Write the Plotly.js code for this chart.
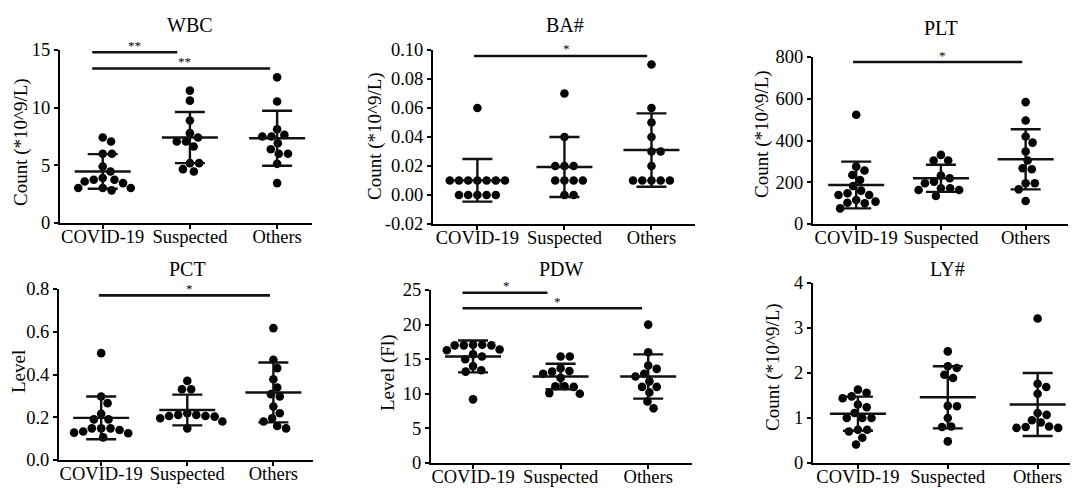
<!DOCTYPE html>
<html><head><meta charset="utf-8">
<script src="https://cdn.plot.ly/plotly-3.0.1.min.js"></script>
<style>
@font-face{font-family:'LSL';src:local('Liberation Serif'),local('LiberationSerif'),local('Liberation Serif Regular');}
html,body{margin:0;padding:0;background:#fff}#chart{width:1072px;height:488px}
</style>
</head><body><div id="chart"></div>
<script>
// ---------- DATA ----------
const categories = ['COVID-19', 'Suspected', 'Others'];

// WBC (*10^9/L)
const wbcCovid = [7.41, 7.07, 6.0, 6.0, 4.9, 4.47, 3.9, 3.75, 3.75, 3.6, 3.46, 3.03, 3.03, 3.03, 2.83];
const wbcSuspected = [11.48, 10.61, 8.88, 7.79, 7.41, 7.07, 7.07, 6.63, 5.19, 5.19, 4.67, 4.47];
const wbcOthers = [12.63, 10.53, 8.13, 7.64, 7.5, 7.5, 6.92, 6.4, 6.0, 6.0, 5.13, 3.46];
const wbcMean = [4.47, 7.41, 7.35];
const wbcSD = [1.5, 2.22, 2.38];

// BA# (*10^9/L)
const baCovid = [0.06, 0.01, 0.01, 0.01, 0.01, 0.01, 0.01, 0.01, 0, 0, 0, 0, 0];
const baSuspected = [0.07, 0.04, 0.02, 0.02, 0.02, 0.01, 0.01, 0.01, 0.01, 0, 0];
const baOthers = [0.09, 0.06, 0.05, 0.04, 0.03, 0.03, 0.02, 0.01, 0.01, 0.01, 0.01, 0.01];
const baMean = [0.0101, 0.0193, 0.031];
const baSD = [0.0147, 0.0207, 0.0253];

// PLT (*10^9/L)
const pltCovid = [523, 275, 256, 235, 211, 182, 160, 147, 139, 139, 115, 107, 102, 99, 75];
const pltSuspected = [331, 304, 304, 232, 219, 203, 195, 171, 171, 163, 163, 134];
const pltOthers = [584, 496, 419, 390, 347, 304, 267, 262, 195, 195, 166, 110];
const pltMean = [187, 219, 310];
const pltSD = [112, 65, 144];

// PCT (level)
const pctCovid = [0.50, 0.297, 0.266, 0.216, 0.19, 0.19, 0.148, 0.148, 0.148, 0.14, 0.133, 0.128, 0.125, 0.106];
const pctSuspected = [0.37, 0.331, 0.331, 0.219, 0.211, 0.211, 0.206, 0.206, 0.203, 0.195, 0.18, 0.148];
const pctOthers = [0.617, 0.469, 0.43, 0.378, 0.339, 0.308, 0.297, 0.25, 0.219, 0.195, 0.18, 0.159, 0.148];
const pctMean = [0.197, 0.234, 0.316];
const pctSD = [0.10, 0.072, 0.14];

// PDW (Fl)
const pdwCovid = [17.1, 17.1, 17.0, 17.0, 17.0, 16.4, 16.3, 15.7, 15.4, 15.0, 14.0, 13.4, 13.2, 9.2];
const pdwSuspected = [15.4, 15.4, 13.7, 13.3, 13.2, 12.9, 12.3, 11.1, 11.1, 11.0, 10.1, 10.0];
const pdwOthers = [20.0, 16.0, 14.1, 13.6, 12.9, 12.5, 11.8, 11.0, 11.0, 10.2, 8.9, 7.9];
const pdwMean = [15.4, 12.5, 12.5];
const pdwSD = [2.3, 1.85, 3.2];

// LY# (*10^9/L)
const lyCovid = [1.63, 1.56, 1.48, 1.44, 1.30, 1.24, 1.11, 1.0, 1.0, 1.0, 0.74, 0.74, 0.70, 0.56, 0.41];
const lySuspected = [2.48, 2.15, 2.11, 1.96, 1.89, 1.27, 1.26, 1.0, 0.81, 0.80, 0.48];
const lyOthers = [3.21, 1.76, 1.69, 1.54, 1.11, 1.07, 0.95, 0.9, 0.81, 0.8, 0.78, 0.78];
const lyMean = [1.096, 1.46, 1.3];
const lySD = [0.38, 0.69, 0.7];

const panelTitles = ['WBC', 'BA#', 'PLT', 'PCT', 'PDW', 'LY#'];
const yTitles = ['Count (*10^9/L)', 'Count (*10^9/L)', 'Count (*10^9/L)', 'Level', 'Level (Fl)', 'Count (*10^9/L)'];

const wbcTicks = [0, 5, 10, 15];
const baTicks = [-0.02, 0, 0.02, 0.04, 0.06, 0.08, 0.10];
const baTickText = ['-0.02', '0.00', '0.02', '0.04', '0.06', '0.08', '0.10'];
const pltTicks = [0, 200, 400, 600, 800];
const pctTicks = [0, 0.2, 0.4, 0.6, 0.8];
const pctTickText = ['0.0', '0.2', '0.4', '0.6', '0.8'];
const pdwTicks = [0, 5, 10, 15, 20, 25];
const lyTicks = [0, 1, 2, 3, 4];

// ---------- LAYOUT / STYLE ----------
const W = 1072, H = 488;
const FONT = '"Liberation Serif", LSL, "Times New Roman", serif';
const TICK_SIZE = 18.5, TITLE_SIZE = 20, YTITLE_SIZE = 19;

const panels = [
  {groups: [wbcCovid, wbcSuspected, wbcOthers], mean: wbcMean, sd: wbcSD, ticks: wbcTicks, tickText: wbcTicks.map(String),
   box: {l: 60, r: 312, t: 50, b: 223}, xr: [-0.49, 2.4], yr: [0, 15],
   title: {x: 190, y: 25}, ytitle: {x: 21, y: 142},
   sig: [{x0: -0.12, x1: 0.855, y: 14.8, sx: 0.37, text: '**'}, {x0: -0.12, x1: 1.92, y: 13.4, sx: 0.943, text: '**'}]},
  {groups: [baCovid, baSuspected, baOthers], mean: baMean, sd: baSD, ticks: baTicks, tickText: baTickText,
   box: {l: 433, r: 695, t: 50, b: 224}, xr: [-0.51, 2.5], yr: [-0.02, 0.10],
   title: {x: 565, y: 25}, ytitle: {x: 375, y: 136},
   sig: [{x0: -0.04, x1: 1.95, y: 0.0959, sx: 1.02, text: '*'}]},
  {groups: [pltCovid, pltSuspected, pltOthers], mean: pltMean, sd: pltSD, ticks: pltTicks, tickText: pltTicks.map(String),
   box: {l: 813, r: 1068, t: 57, b: 224}, xr: [-0.51, 2.5], yr: [0, 800],
   title: {x: 941, y: 28}, ytitle: {x: 762, y: 134},
   sig: [{x0: -0.037, x1: 1.96, y: 776, sx: 1.02, text: '*'}]},
  {groups: [pctCovid, pctSuspected, pctOthers], mean: pctMean, sd: pctSD, ticks: pctTicks, tickText: pctTickText,
   box: {l: 59, r: 313, t: 289, b: 460}, xr: [-0.49, 2.46], yr: [0, 0.8],
   title: {x: 187, y: 269}, ytitle: {x: 18, y: 372},
   sig: [{x0: -0.027, x1: 1.96, y: 0.77, sx: 1.025, text: '*'}]},
  {groups: [pdwCovid, pdwSuspected, pdwOthers], mean: pdwMean, sd: pdwSD, ticks: pdwTicks, tickText: pdwTicks.map(String),
   box: {l: 431, r: 692, t: 290, b: 463}, xr: [-0.48, 2.5], yr: [0, 25],
   title: {x: 561, y: 269}, ytitle: {x: 388, y: 373},
   sig: [{x0: -0.12, x1: 0.85, y: 24.6, sx: 0.385, text: '*'}, {x0: -0.12, x1: 1.93, y: 22.36, sx: 0.964, text: '*'}]},
  {groups: [lyCovid, lySuspected, lyOthers], mean: lyMean, sd: lySD, ticks: lyTicks, tickText: lyTicks.map(String),
   box: {l: 813, r: 1070, t: 283, b: 463}, xr: [-0.5, 2.36], yr: [0, 4],
   title: {x: 947, y: 269}, ytitle: {x: 773, y: 367},
   sig: []}
];

const DOT = 8.6;       // marker diameter px
const GAP = 9.2;       // collision distance px

// beeswarm offsets (in px) computed from values
function swarm(vals, pyPerUnit) {
  const order = vals.map((v, i) => i).sort((a, b) => vals[b] - vals[a]);
  const placed = [];
  const off = new Array(vals.length).fill(0);
  order.forEach(i => {
    const y = vals[i] * pyPerUnit;
    const iv = [];
    placed.forEach(p => {
      const dy = Math.abs(p.y - y);
      if (dy < GAP) { const dx = Math.sqrt(GAP * GAP - dy * dy); iv.push([p.x - dx, p.x + dx]); }
    });
    const cands = [0];
    iv.forEach(v => cands.push(v[0], v[1]));
    cands.sort((a, b) => (Math.abs(a) - Math.abs(b)) || (b - a));
    let x = 0;
    for (const c of cands) {
      if (iv.every(v => c <= v[0] + 1e-6 || c >= v[1] - 1e-6)) { x = c; break; }
    }
    placed.push({x, y});
    off[i] = x;
  });
  return off;
}

function build() {
  const data = [];
  const layout = {
    width: W, height: H, margin: {l: 0, r: 0, t: 0, b: 0},
    paper_bgcolor: '#fff', plot_bgcolor: 'rgba(0,0,0,0)',
    showlegend: false, font: {family: FONT, size: TICK_SIZE, color: '#000'},
    annotations: [], shapes: []
  };

  panels.forEach((p, k) => {
    const n = k === 0 ? '' : String(k + 1);
    const xa = 'x' + n, ya = 'y' + n;
    const bw = p.box.r - p.box.l, bh = p.box.b - p.box.t;
    const pxPerX = bw / (p.xr[1] - p.xr[0]);
    const pxPerY = bh / (p.yr[1] - p.yr[0]);

    p.groups.forEach((vals, gi) => {
      const offs = swarm(vals, pxPerY);
      data.push({
        type: 'scatter', mode: 'markers', xaxis: xa, yaxis: ya,
        x: vals.map((v, i) => gi + offs[i] / pxPerX), y: vals,
        marker: {size: DOT, color: '#000', line: {width: 0}},
        cliponaxis: false, hoverinfo: 'y'
      });
    });
    data.push({
      type: 'scatter', mode: 'markers', xaxis: xa, yaxis: ya,
      x: [0, 1, 2], y: p.mean,
      marker: {symbol: 'line-ew', size: 40, color: '#000', line: {width: 2.4, color: '#111'}},
      error_y: {type: 'data', array: p.sd, visible: true, color: '#111', thickness: 2.4, width: 15},
      cliponaxis: false, hoverinfo: 'y'
    });

    layout['xaxis' + n] = {
      domain: [p.box.l / W, p.box.r / W], anchor: ya, range: p.xr,
      tickvals: [0, 1, 2], ticktext: categories, tickangle: 0, ticklabelstandoff: -8,
      ticks: 'outside', ticklen: 4, tickwidth: 2, tickcolor: '#000',
      showline: true, linewidth: 2, linecolor: '#000', showgrid: false, zeroline: false,
      tickfont: {family: FONT, size: TICK_SIZE, color: '#000'}, fixedrange: true
    };
    layout['yaxis' + n] = {
      domain: [(H - p.box.b) / H, (H - p.box.t) / H], anchor: xa, range: p.yr,
      tickvals: p.ticks, ticktext: p.tickText, ticks: 'outside', ticklen: 4, tickwidth: 2, tickcolor: '#000',
      showline: true, linewidth: 2, linecolor: '#000', showgrid: false, zeroline: false,
      tickfont: {family: FONT, size: TICK_SIZE, color: '#000'}, fixedrange: true
    };

    layout.annotations.push({
      xref: 'paper', yref: 'paper', x: p.title.x / W, y: 1 - p.title.y / H,
      xanchor: 'center', yanchor: 'middle', showarrow: false, text: panelTitles[k],
      font: {family: FONT, size: TITLE_SIZE, color: '#000'}
    });
    layout.annotations.push({
      xref: 'paper', yref: 'paper', x: p.ytitle.x / W, y: 1 - p.ytitle.y / H,
      xanchor: 'center', yanchor: 'middle', showarrow: false, text: yTitles[k], textangle: -90,
      font: {family: FONT, size: YTITLE_SIZE, color: '#000'}
    });
    p.sig.forEach(s => {
      layout.shapes.push({type: 'line', xref: xa, yref: ya, x0: s.x0, x1: s.x1, y0: s.y, y1: s.y,
        line: {color: '#111', width: 2.6}});
      layout.annotations.push({xref: xa, yref: ya, x: s.sx, y: s.y, xanchor: 'center', yanchor: 'middle',
        yshift: 7, showarrow: false, text: s.text, font: {family: FONT, size: 13, color: '#000'}});
    });
  });
  return {data, layout};
}

function draw() {
  const f = build();
  Plotly.newPlot('chart', f.data, f.layout, {staticPlot: true, displayModeBar: false});
}
draw();
if (document.fonts) {
  document.fonts.load('20px LSL').then(draw).catch(() => {});
  document.fonts.ready.then(draw);
}
setTimeout(draw, 120);
</script>
</body></html>
